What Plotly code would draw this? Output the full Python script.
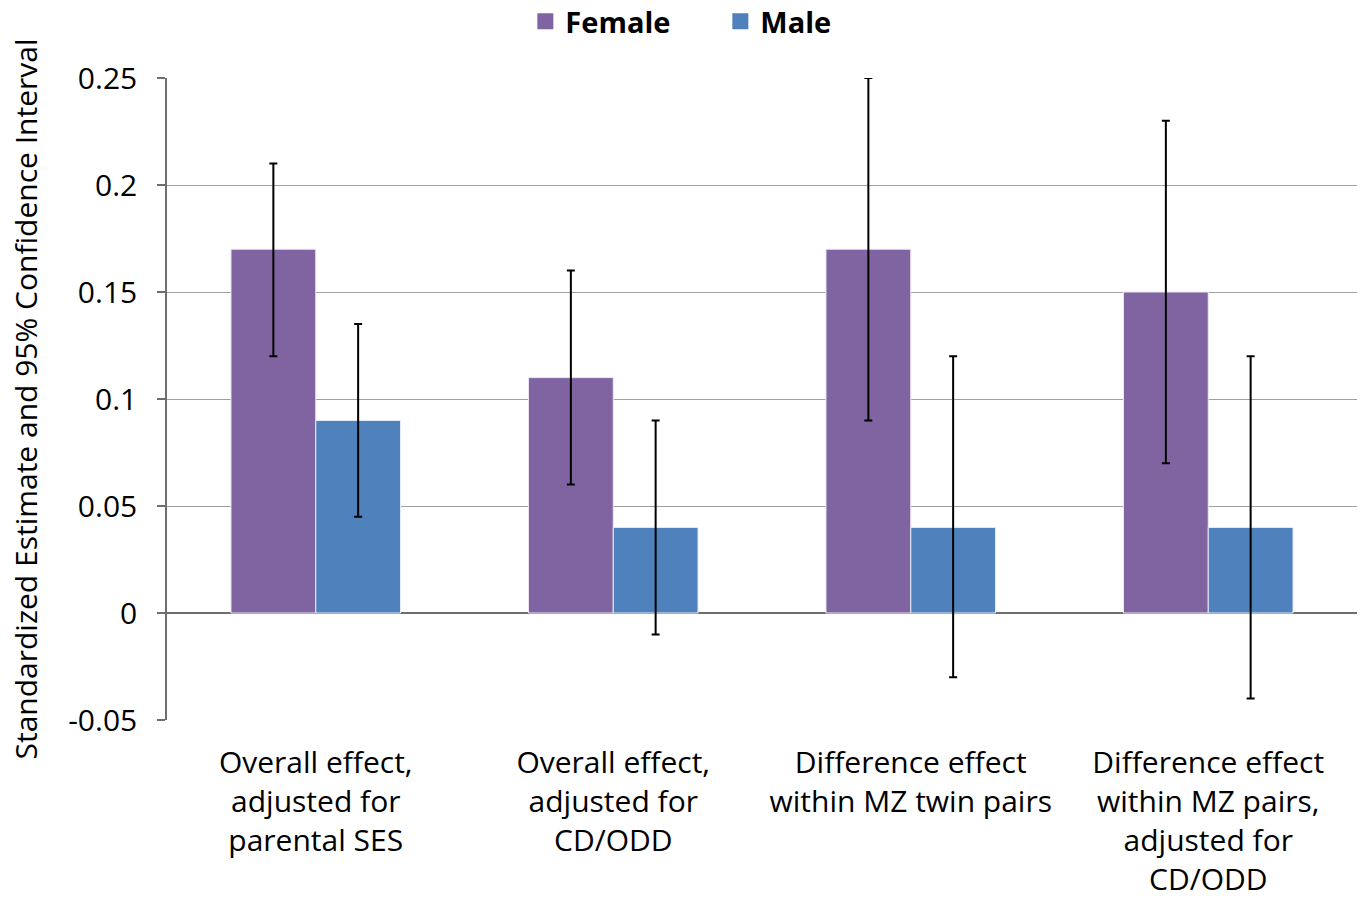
import plotly.graph_objects as go

categories = [
    "Overall effect,<br>adjusted for<br>parental SES",
    "Overall effect,<br>adjusted for<br>CD/ODD",
    "Difference effect<br>within MZ twin pairs",
    "Difference effect<br>within MZ pairs,<br>adjusted for<br>CD/ODD",
]
series_names = ["Female", "Male"]
series_colors = ["#8064A2", "#4F81BD"]
female = [0.17, 0.11, 0.17, 0.15]
female_lo = [0.12, 0.06, 0.09, 0.07]
female_hi = [0.21, 0.16, 0.25, 0.23]
male = [0.09, 0.04, 0.04, 0.04]
male_lo = [0.045, -0.01, -0.03, -0.04]
male_hi = [0.135, 0.09, 0.12, 0.12]
yticks = [-0.05, 0, 0.05, 0.1, 0.15, 0.2, 0.25]
yticklabels = ["-0.05", "0", "0.05", "0.1", "0.15", "0.2", "0.25"]

FONT = "Open Sans"

def err(vals, lo, hi):
    return dict(
        type="data", symmetric=False,
        array=[h - v for v, h in zip(vals, hi)],
        arrayminus=[v - l for v, l in zip(vals, lo)],
        color="black", thickness=2, width=4,
    )

fig = go.Figure()
fig.add_trace(go.Bar(
    name=series_names[0], x=categories, y=female, showlegend=False,
    marker=dict(color=series_colors[0], line=dict(color="#EDE8F3", width=1)),
    error_y=err(female, female_lo, female_hi),
))
fig.add_trace(go.Bar(
    name=series_names[1], x=categories, y=male, showlegend=False,
    marker=dict(color=series_colors[1], line=dict(color="#E6EEF7", width=1)),
    error_y=err(male, male_lo, male_hi),
))
# legend-only entries with square swatches
for nm, col in zip(series_names, series_colors):
    fig.add_trace(go.Scatter(
        name=nm, x=[None], y=[None], mode="markers",
        marker=dict(symbol="square", size=16, color=col),
        showlegend=True, hoverinfo="skip",
    ))

fig.update_layout(
    width=1363, height=908,
    paper_bgcolor="white", plot_bgcolor="white",
    margin=dict(l=167, r=6, t=78, b=188, autoexpand=False),
    barmode="group", bargap=0.43, bargroupgap=0.0,
    font=dict(family=FONT, size=30, color="black"),
    showlegend=True,
    legend=dict(
        orientation="h", x=0.465, xanchor="center", y=1.088, yanchor="middle",
        font=dict(family=FONT, size=29, color="black", weight="bold"),
        itemwidth=30, entrywidth=150, traceorder="normal", bgcolor="rgba(0,0,0,0)",
    ),
    xaxis=dict(
        showgrid=False, showline=False, ticks="",
        tickfont=dict(family=FONT, size=30, color="black"),
        ticklabelstandoff=22,
    ),
    yaxis=dict(
        range=[-0.05, 0.25], tickvals=yticks, ticktext=yticklabels,
        showgrid=True, gridcolor="#A0A0A0", gridwidth=1,
        zeroline=True, zerolinecolor="#6E6E6E", zerolinewidth=1.6,
        showline=True, linecolor="#6E6E6E", linewidth=1.6,
        ticks="outside", ticklen=8, tickcolor="#6E6E6E", tickwidth=1.6,
        tickfont=dict(family=FONT, size=30, color="black"),
        ticklabelstandoff=14,
        title=dict(text="Standardized Estimate and 95% Confidence Interval",
                   font=dict(family=FONT, size=30, color="black"), standoff=22),
    ),
)

fig.write_html(
    "out.html",
    config={"displayModeBar": False},
    post_script="document.body.style.margin='0';document.body.style.overflow='hidden';",
)
